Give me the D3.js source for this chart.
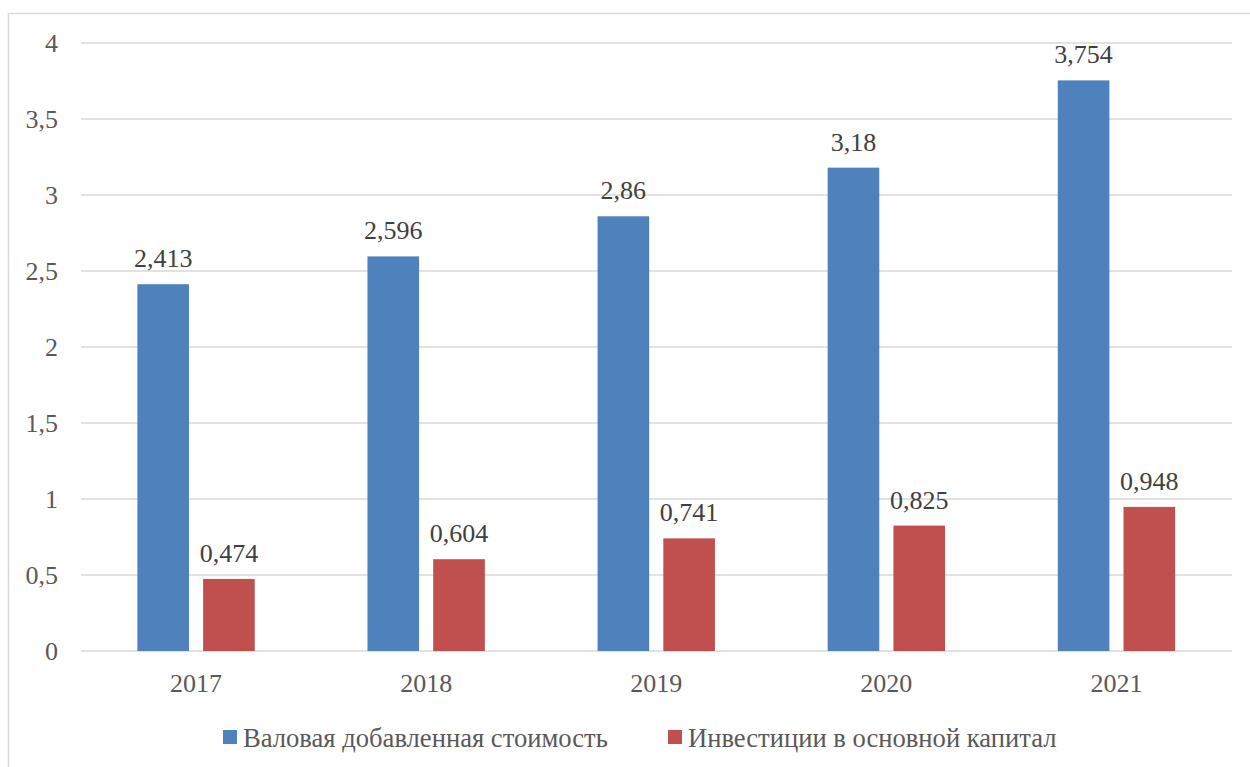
<!DOCTYPE html>
<html>
<head>
<meta charset="utf-8">
<script src="https://cdn.jsdelivr.net/npm/d3@7"></script>
<style>
  body { margin: 0; background: #fff; }
</style>
</head>
<body>
<div id="chart"></div>
<script>
// data
var years = ["2017", "2018", "2019", "2020", "2021"];
var seriesNames = ["Валовая добавленная стоимость", "Инвестиции в основной капитал"];
var gva = [2.413, 2.596, 2.86, 3.18, 3.754];
var invest = [0.474, 0.604, 0.741, 0.825, 0.948];
var yTicks = [0, 0.5, 1, 1.5, 2, 2.5, 3, 3.5, 4];
var colors = ["#4F81BD", "#C0504D"];

var width = 1250, height = 767;
var margin = {top: 43, right: 18, bottom: 116, left: 81};
var serif = "'Liberation Serif', 'Times New Roman', serif";

var svg = d3.select("#chart")
  .append("svg")
  .attr("width", width)
  .attr("height", height)
  .attr("font-family", serif);

// outer frame of the chart area (runs off right/bottom edge)
svg.append("rect")
  .attr("x", 8.5).attr("y", 13.5)
  .attr("width", 1300).attr("height", 800)
  .attr("fill", "none")
  .attr("stroke", "#D9D9D9")
  .attr("stroke-width", 1.5);

var x0 = d3.scaleBand()
  .domain(years)
  .range([margin.left, width - margin.right - 0.5])
  .paddingInner(0.49)
  .paddingOuter(0.245);

var x1 = d3.scaleBand()
  .domain([0, 1])
  .range([0, x0.bandwidth()])
  .paddingInner(0.215);

var y = d3.scaleLinear()
  .domain([0, 4])
  .range([height - margin.bottom, margin.top]);

// gridlines
svg.append("g")
  .selectAll("line")
  .data(yTicks)
  .enter()
  .append("line")
  .attr("x1", margin.left)
  .attr("x2", width - margin.right)
  .attr("y1", function(d) { return y(d); })
  .attr("y2", function(d) { return y(d); })
  .attr("stroke", "#D9D9D9")
  .attr("stroke-width", 1.5);

// y tick labels
var fmt = function(v) { return String(v).replace(".", ","); };
svg.append("g")
  .selectAll("text")
  .data(yTicks)
  .enter()
  .append("text")
  .attr("x", 58)
  .attr("y", function(d) { return y(d) + 9; })
  .attr("text-anchor", "end")
  .attr("font-size", 26)
  .attr("fill", "#595959")
  .text(fmt);

// x labels
svg.append("g")
  .selectAll("text")
  .data(years)
  .enter()
  .append("text")
  .attr("x", function(d) { return x0(d) + x0.bandwidth() / 2; })
  .attr("y", 692)
  .attr("text-anchor", "middle")
  .attr("font-size", 26)
  .attr("fill", "#595959")
  .text(function(d) { return d; });

var rows = years.map(function(yr, i) {
  return {year: yr, vals: [gva[i], invest[i]]};
});

var groups = svg.selectAll(".grp")
  .data(rows)
  .enter()
  .append("g")
  .attr("class", "grp")
  .attr("transform", function(d) { return "translate(" + x0(d.year) + ",0)"; });

groups.selectAll("rect")
  .data(function(d) { return d.vals; })
  .enter()
  .append("rect")
  .attr("x", function(d, i) { return x1(i); })
  .attr("y", function(d) { return y(d); })
  .attr("width", x1.bandwidth())
  .attr("height", function(d) { return y(0) - y(d); })
  .attr("fill", function(d, i) { return colors[i]; });

// value labels above bars
groups.selectAll("text")
  .data(function(d) { return d.vals; })
  .enter()
  .append("text")
  .attr("x", function(d, i) { return x1(i) + x1.bandwidth() / 2; })
  .attr("y", function(d) { return y(d) - 17; })
  .attr("text-anchor", "middle")
  .attr("font-size", 26)
  .attr("fill", "#404040")
  .text(fmt);

// legend
var legendX = [223, 668];
var legend = svg.selectAll(".leg")
  .data(seriesNames)
  .enter()
  .append("g")
  .attr("class", "leg")
  .attr("transform", function(d, i) { return "translate(" + legendX[i] + ",730)"; });

legend.append("rect")
  .attr("width", 14)
  .attr("height", 14)
  .attr("fill", function(d, i) { return colors[i]; });

legend.append("text")
  .attr("x", 20)
  .attr("y", 17)
  .attr("font-size", 26.6)
  .attr("fill", "#595959")
  .text(function(d) { return d; });
</script>
</body>
</html>
